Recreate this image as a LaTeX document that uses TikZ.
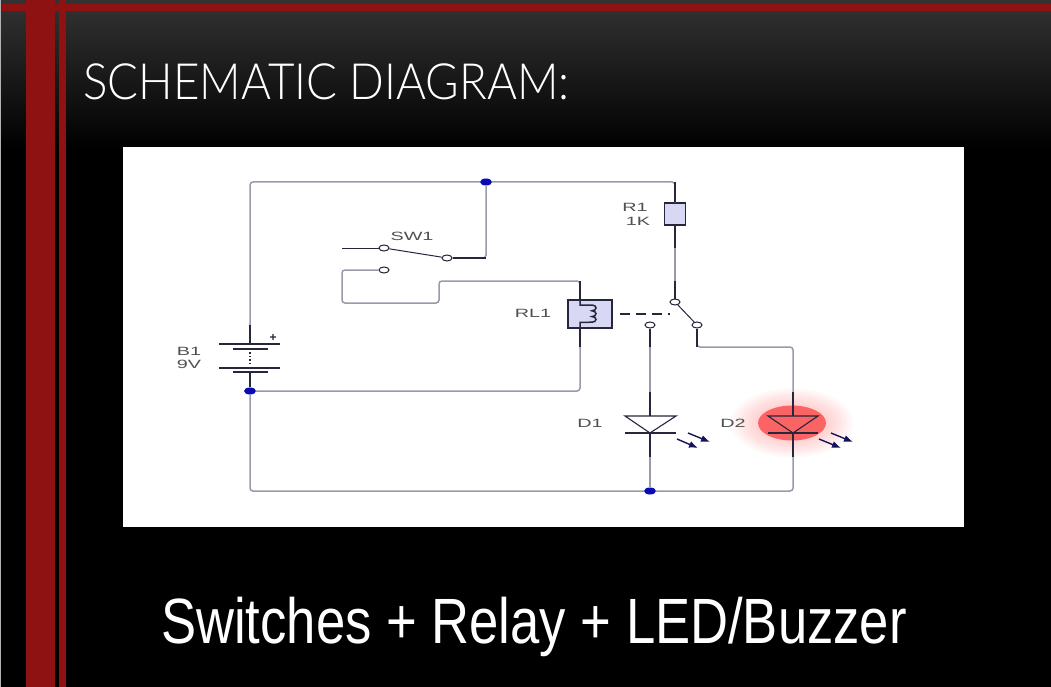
\documentclass[tikz,border=0pt]{standalone}
\usepackage{fontspec}
\setmainfont{Liberation Sans}
\newfontfamily\headfont{Lato Light}
\usetikzlibrary{shapes.geometric,arrows.meta}
\definecolor{barred}{HTML}{8F1212}
\definecolor{wiregray}{HTML}{9A9AAA}
\definecolor{wiredark}{HTML}{26263C}
\definecolor{beamblue}{HTML}{14145A}
\definecolor{partfill}{HTML}{D8D8F4}
\definecolor{dotblue}{HTML}{0A0AB4}
\definecolor{labelgray}{HTML}{505050}
\definecolor{ledred}{HTML}{FA6464}
\newcommand{\parttag}[1]{\scalebox{1.65}[1]{#1}}
\begin{document}
\begin{tikzpicture}[x=1pt,y=-1pt,
	wire/.style = {wiregray,line width=1.5pt,rounded corners=3pt},
	lead/.style = {wiredark,line width=1.5pt},
	contact/.style = {draw=wiredark,fill=white,ellipse,line width=1pt,inner sep=0pt,minimum width=10pt,minimum height=6pt},
	junction/.style = {fill=dotblue,ellipse,inner sep=0pt,minimum width=12pt,minimum height=7pt},
	part/.style = {draw=wiredark,fill=partfill,line width=1.4pt,inner sep=0pt},
	tag/.style = {labelgray,font=\fontsize{12}{12}\selectfont,inner sep=0pt},
	beam/.style = {beamblue,line width=1.4pt,-{Latex[length=9pt,width=7pt]}}]
\useasboundingbox (0,0) rectangle (1051,687);
% backdrop
\fill[black] (0,0) rectangle (1051,687);
\shade[top color=black!80!white,bottom color=black] (0,0) rectangle (1051,150);
\fill[black!30!white] (0,0) rectangle (1,687);
\fill[barred] (2,4) rectangle (1051,11);
\fill[barred] (26,0) rectangle (55,687);
\fill[barred] (59,0) rectangle (66,687);
\node[white,anchor=base west,inner sep=0pt] (head) at (83,100) {\scalebox{.915}[1]{\headfont\fontsize{50}{50}\selectfont SCHEMATIC DIAGRAM:}};
\node[white,anchor=base,inner sep=0pt] (foot) at (534,643) {\scalebox{.822}[1]{\fontsize{64}{64}\selectfont Switches + Relay + LED/Buzzer}};
\fill[white] (123,147) rectangle (964,527);
% led glow
\foreach \k in {1,...,8} {
	\fill[red!70!white,opacity=.03] (792,423) ellipse ({34+3.4*\k} and {17+2.2*\k});
}
\node[fill=ledred,ellipse,inner sep=0pt,minimum width=68pt,minimum height=35pt] (glow) at (792,423) {};
% points of the circuit
\node[junction] (top) at (486,182) {};
\node[junction] (mid) at (250,391) {};
\node[junction] (low) at (650,491) {};
\node[contact] (swa) at (384,248) {};
\node[contact] (swb) at (384,270) {};
\node[contact] (swc) at (447,258) {};
\node[contact] (rla) at (675,302) {};
\node[contact] (rlb) at (650,325) {};
\node[contact] (rlc) at (697,325) {};
\node[part,minimum width=21pt,minimum height=22pt] (r1) at (675,214) {};
\node[part,minimum width=44pt,minimum height=28pt] (coil) at (590,314) {};
\coordinate (swin) at (342,248);
\coordinate (dasha) at (620,314);
\coordinate (dashb) at (670,314);
\coordinate (d1top) at (650,416);
\coordinate (d1low) at (650,433);
\coordinate (d2top) at (793,416);
\coordinate (d2low) at (793,433);
\coordinate (batp) at (250,344);
\coordinate (batn) at (250,372);
\coordinate (coilt) at (580,300);
\coordinate (coilb) at (580,328);
% wires
\draw[wire] (batp) -- (250,182) -- (top) -- (675,182) -- (r1);
\draw[wire] (top) -- (486,258) -- (swc);
\draw[wire] (r1) -- (rla);
\draw[wire] (swb) -- (342,270) -- (342,303) -- (439,303) -- (439,281) -- (580,281) -- (coilt);
\draw[wire] (mid) -- (580,391) -- (coilb);
\draw[wire] (batn) -- (mid) -- (250,491) -- (low) -- (793,491) -- (d2low);
\draw[wire] (rlc) -- (697,347) -- (793,347) -- (d2top);
\draw[wire] (rlb) -- (d1top);
\draw[wire] (d1low) -- (low);
% dark leads
\draw[lead] (675,182) -- (r1.north);
\draw[lead] (r1.south) -- (675,248);
\draw[lead] (675,281) -- (rla);
\draw[lead] (580,281) -- (coilt);
\draw[lead] (coilb) -- (580,347);
\draw[lead] (rlb) -- (650,347);
\draw[lead] (650,392) -- (d1top);
\draw[lead] (d1low) -- (650,457);
\draw[lead] (793,392) -- (d2top);
\draw[lead] (d2low) -- (793,457);
\draw[lead] (rlc) -- (697,347);
\draw[lead] (250,325) -- (batp);
\draw[lead] (batn) -- (mid);
\draw[lead] (swc) -- (486,258);
\draw[wiredark,line width=1pt] (swin) -- (swa);
\draw[wiredark,line width=1pt] (swa) -- (swc);
\draw[wiredark,line width=1pt] (rla) -- (rlc);
\draw[wiredark,line width=1.3pt,dash pattern=on 10pt off 6pt] (dasha) -- (dashb);
% relay coil
\draw[lead] (coilt) -- (580,305) -- (592,305) arc (-90:90:4 and 2.9) arc (-90:90:4 and 2.9) arc (-90:90:4 and 2.8) -- (580,322.4) -- (coilb);
% battery
\draw[lead] (219,344) -- (280,344);
\draw[lead,line width=2pt] (233,349) -- (268,349);
\draw[lead,dotted] (250,352) -- (250,365);
\draw[lead] (219,368) -- (280,368);
\draw[lead,line width=2pt] (233,372) -- (268,372);
% diodes
\draw[wiredark,line width=1.1pt] (625,416) -- (676,416) -- (d1low) -- cycle;
\draw[wiredark,line width=1.1pt] (625,433) -- (676,433);
\draw[wiredark,line width=1.1pt] (768,416) -- (818,416) -- (d2low) -- cycle;
\draw[wiredark,line width=1.1pt] (768,433) -- (818,433);
\draw[beam] (688,433) -- (710,442);
\draw[beam] (677,439) -- (698,448);
\draw[beam] (831,433) -- (853,442);
\draw[beam] (819,439) -- (841,448);
% labels
\node[tag] (sw1) at (412,236) {\parttag{SW1}};
\node[tag] (r1a) at (635,207) {\parttag{R1}};
\node[tag] (r1b) at (638,221) {\parttag{1K}};
\node[tag] (rl1) at (533,313) {\parttag{RL1}};
\node[tag] (b1) at (189,351) {\parttag{B1}};
\node[tag] (b1v) at (189,364) {\parttag{9V}};
\node[tag] (d1) at (590,423) {\parttag{D1}};
\node[tag] (d2) at (733,423) {\parttag{D2}};
\node[tag,wiredark,font=\bfseries\fontsize{12}{12}\selectfont] (plus) at (273,338) {+};
\end{tikzpicture}
\end{document}
